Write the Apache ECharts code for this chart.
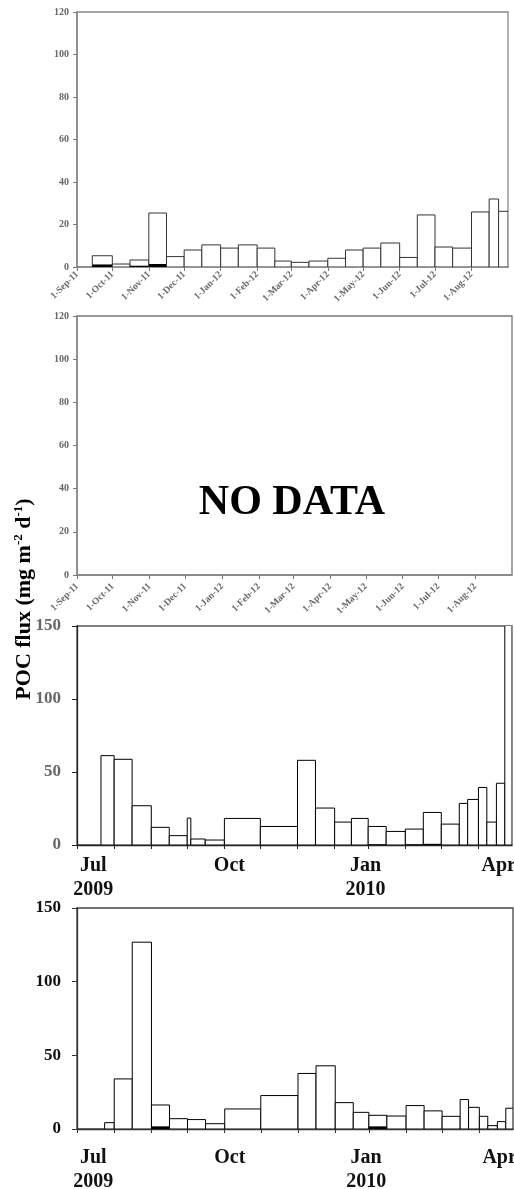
<!DOCTYPE html>
<html>
<head>
<meta charset="utf-8">
<script src="https://cdn.jsdelivr.net/npm/echarts@6/dist/echarts.min.js"></script>
<style>
  html, body { margin: 0; padding: 0; background: #fff; }
  #chart { width: 514px; height: 1189px; }
</style>
</head>
<body>
<div id="chart"></div>
<script>
// panel 1: 2011-12, bars run between consecutive edges
const p1Edges = ['2011-09-14', '2011-10-01', '2011-10-16', '2011-11-01', '2011-11-16', '2011-12-01',
  '2011-12-16', '2012-01-01', '2012-01-16', '2012-02-01', '2012-02-16', '2012-03-01', '2012-03-16',
  '2012-04-01', '2012-04-16', '2012-05-01', '2012-05-16', '2012-06-01', '2012-06-16', '2012-07-01',
  '2012-07-16', '2012-08-01', '2012-08-16', '2012-08-24', '2012-09-01']
const p1Total = [5.3, 1.4, 3.3, 25.4, 4.9, 8.0, 10.4, 8.9, 10.4, 8.9, 2.8, 2.2, 2.8, 4.1, 8.0, 8.9,
  11.3, 4.5, 24.5, 9.4, 8.9, 25.9, 32.0, 26.2]
const p1Black = [1.2, 0, 0.6, 1.4, 0, 0, 0, 0, 0, 0, 0, 0, 0, 0, 0, 0, 0, 0, 0, 0, 0, 0, 0, 0]

// panel 3: 2009-10
const p3Edges = ['2009-07-21', '2009-08-01', '2009-08-16', '2009-09-01', '2009-09-16', '2009-10-01',
  '2009-10-04', '2009-10-16', '2009-11-01', '2009-12-01', '2010-01-01', '2010-01-16', '2010-02-01',
  '2010-02-15', '2010-03-01', '2010-03-16', '2010-04-01', '2010-04-16', '2010-05-01', '2010-05-16',
  '2010-05-23', '2010-06-01', '2010-06-08', '2010-06-16', '2010-06-23', '2010-06-29']
const p3Total = [61.2, 58.7, 26.9, 12.1, 6.4, 18.4, 4.1, 3.4, 18.2, 12.7, 58.0, 25.3, 15.7, 18.2,
  12.7, 9.3, 10.9, 22.3, 14.3, 28.5, 31.2, 39.4, 15.7, 42.3, 160]
const p3Black = [0, 0, 0, 0, 0, 0, 0, 0, 0, 0, 0, 0, 0, 0, 0.5, 0, 0.5, 0.8, 0, 0, 0, 0, 0, 0, 0]

// panel 4: 2009-10
const p4Edges = ['2009-07-24', '2009-08-01', '2009-08-16', '2009-09-01', '2009-09-16', '2009-10-01',
  '2009-10-16', '2009-11-01', '2009-12-01', '2010-01-01', '2010-01-16', '2010-02-01', '2010-02-16',
  '2010-03-01', '2010-03-16', '2010-04-01', '2010-04-16', '2010-05-01', '2010-05-16', '2010-05-23',
  '2010-06-01', '2010-06-08', '2010-06-16', '2010-06-23', '2010-06-29']
const p4Total = [4.3, 34.0, 126.8, 16.3, 7.0, 6.4, 3.6, 13.6, 22.7, 37.7, 42.9, 17.9, 11.3, 9.3,
  8.8, 15.9, 12.3, 8.6, 20.0, 14.7, 8.6, 2.3, 5.0, 14.1]
const p4Black = [0, 0, 0, 1.8, 0, 0, 0, 0, 0, 0, 0, 0, 0, 1.8, 0, 0, 0, 0, 0, 0, 0, 0, 0, 0]

// tick labels
const monthTicks1112 = ['2011-09-01', '2011-10-01', '2011-11-01', '2011-12-01', '2012-01-01',
  '2012-02-01', '2012-03-01', '2012-04-01', '2012-05-01', '2012-06-01', '2012-07-01', '2012-08-01']
const monthLabels1112 = ['1-Sep-11', '1-Oct-11', '1-Nov-11', '1-Dec-11', '1-Jan-12', '1-Feb-12',
  '1-Mar-12', '1-Apr-12', '1-May-12', '1-Jun-12', '1-Jul-12', '1-Aug-12']
const monthTicks0910 = ['2009-07-01', '2009-08-01', '2009-09-01', '2009-10-01', '2009-11-01',
  '2009-12-01', '2010-01-01', '2010-02-01', '2010-03-01', '2010-04-01', '2010-05-01', '2010-06-01']
const quarterTicks = ['2009-07-01', '2009-10-01', '2010-01-01', '2010-04-01']
const quarterLabels = ['Jul\n2009', 'Oct', 'Jan\n2010', 'Apr']

// dates -> day count (x axes are plain value axes measured in days)
const DAY = 86400000
const t = s => Math.round(Date.UTC(+s.slice(0, 4), +s.slice(5, 7) - 1, +s.slice(8, 10)) / DAY)
const serif = '"Liberation Serif", "Times New Roman", serif'

const toBars = (edges, total, black) =>
  total.map((v, i) => [t(edges[i]), t(edges[i + 1]), v, black[i]])

const labelMap = (ticks, labels) => {
  const m = {}
  ticks.forEach((d, i) => { m[t(d)] = labels[i] })
  return m
}
const lbl1112 = labelMap(monthTicks1112, monthLabels1112)
const lblQ = labelMap(quarterTicks, quarterLabels)

const makeRender = (stroke) => (params, api) => {
  const top = api.coord([api.value(0), api.value(2)])
  const bot = api.coord([api.value(1), 0])
  const children = [{
    type: 'rect',
    shape: { x: top[0], y: top[1], width: bot[0] - top[0], height: bot[1] - top[1] },
    style: { fill: '#fff', stroke: stroke, lineWidth: 1 }
  }]
  const b = api.value(3)
  if (b > 0) {
    const bt = api.coord([api.value(0), b])
    children.push({
      type: 'rect',
      shape: { x: bt[0], y: bt[1], width: bot[0] - bt[0], height: bot[1] - bt[1] },
      style: { fill: '#000' }
    })
  }
  return { type: 'group', children }
}

const chart = echarts.init(document.getElementById('chart'))

const topXAxis = (grid, margin) => ({
  type: 'value', gridIndex: grid, position: 'bottom',
  min: t('2011-09-01'), max: t('2012-09-01'),
  axisLine: { lineStyle: { color: '#888', width: 1.5 } },
  axisTick: { length: 4, customValues: monthTicks1112.map(t), lineStyle: { color: '#777' } },
  axisLabel: {
    customValues: monthTicks1112.map(t), rotate: 45, margin: margin,
    fontFamily: serif, fontWeight: 'bold', fontSize: 9.5, color: '#666',
    formatter: v => lbl1112[Math.round(v)] || ''
  },
  splitLine: { show: false }
})
const topYAxis = (grid) => ({
  type: 'value', gridIndex: grid, min: 0, max: 120, interval: 20,
  axisLine: { show: true, lineStyle: { color: '#888', width: 1.5 } },
  axisTick: { show: true, length: 4, lineStyle: { color: '#777' } },
  axisLabel: { fontFamily: serif, fontWeight: 'bold', fontSize: 10, color: '#666', margin: 8 },
  splitLine: { show: false }
})
const lowXAxis = (grid, color) => ({
  type: 'value', gridIndex: grid, position: 'bottom',
  min: t('2009-07-01'), max: t('2010-06-29'),
  axisLine: { lineStyle: { color: color, width: 1.3 } },
  axisTick: { length: 4, customValues: monthTicks0910.map(t), lineStyle: { color: color } },
  axisLabel: { show: false },
  splitLine: { show: false }
})
const labelXAxis = (grid, margin) => ({
  type: 'value', gridIndex: grid, position: 'bottom',
  min: t('2009-06-20'), max: t('2010-04-10'),
  axisLine: { show: false }, axisTick: { show: false }, splitLine: { show: false },
  axisLabel: {
    customValues: quarterTicks.map(t), margin: margin,
    fontFamily: serif, fontWeight: 'bold', fontSize: 20, lineHeight: 24, color: '#111',
    formatter: v => lblQ[Math.round(v)] || ''
  }
})
const lowYAxis = (grid, color, lineColor) => ({
  type: 'value', gridIndex: grid, min: 0, max: 150, interval: 50,
  axisLine: { show: true, lineStyle: { color: lineColor, width: 1.3 } },
  axisTick: { show: true, length: 5, lineStyle: { color: lineColor } },
  axisLabel: { fontFamily: serif, fontWeight: 'bold', fontSize: 17, color: color, margin: 16 },
  splitLine: { show: false }
})

const gridBase = { show: true, borderWidth: 1.3, outerBoundsMode: 'none', containLabel: false }

const option = {
  animation: false,
  backgroundColor: '#fff',
  grid: [
    { ...gridBase, left: 77, top: 12, width: 431, height: 255, borderColor: '#888' },
    { ...gridBase, left: 77, top: 316, width: 435, height: 259, borderColor: '#777' },
    { ...gridBase, left: 77, top: 626, width: 435, height: 219, borderColor: '#555' },
    { ...gridBase, left: 77, top: 908, width: 436, height: 221, borderColor: '#444' }
  ],
  xAxis: [
    topXAxis(0, 6),
    topXAxis(1, 10),
    lowXAxis(2, '#222'),
    labelXAxis(2, 9),
    lowXAxis(3, '#333'),
    labelXAxis(3, 17)
  ],
  yAxis: [
    topYAxis(0),
    topYAxis(1),
    lowYAxis(2, '#666', '#222'),
    lowYAxis(3, '#111', '#333')
  ],
  series: [
    {
      type: 'custom', xAxisIndex: 0, yAxisIndex: 0, clip: true,
      encode: { x: [0, 1], y: 2 },
      renderItem: makeRender('#333'),
      data: toBars(p1Edges, p1Total, p1Black)
    },
    {
      type: 'custom', xAxisIndex: 2, yAxisIndex: 2, clip: true,
      encode: { x: [0, 1], y: 2 },
      renderItem: makeRender('#000'),
      data: toBars(p3Edges, p3Total, p3Black)
    },
    {
      type: 'custom', xAxisIndex: 4, yAxisIndex: 3, clip: true,
      encode: { x: [0, 1], y: 2 },
      renderItem: makeRender('#000'),
      data: toBars(p4Edges, p4Total, p4Black)
    }
  ],
  graphic: [
    {
      type: 'text', x: 292, y: 503,
      style: {
        text: 'NO DATA', fill: '#000', align: 'center', verticalAlign: 'middle',
        font: 'bold 42px "Liberation Serif", "Times New Roman", serif'
      }
    },
    {
      type: 'text', x: 24, y: 599, rotation: Math.PI / 2,
      style: {
        text: '{n|POC flux (mg m}{s|-2}{n| d}{s|-1}{n|)}',
        align: 'center', verticalAlign: 'middle',
        rich: {
          n: { fontFamily: serif, fontWeight: 'bold', fontSize: 22, fill: '#000', lineHeight: 24 },
          s: { fontFamily: serif, fontWeight: 'bold', fontSize: 13, fill: '#000', verticalAlign: 'top', lineHeight: 24 }
        }
      }
    }
  ]
}

chart.setOption(option)
window.addEventListener('resize', () => chart.resize())
</script>
</body>
</html>
